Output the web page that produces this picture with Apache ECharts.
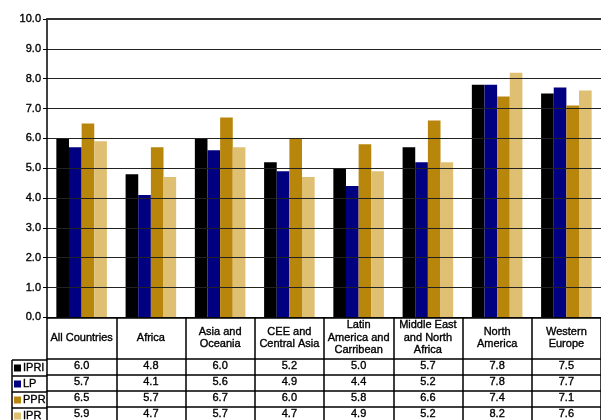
<!DOCTYPE html>
<html>
<head>
<meta charset="utf-8">
<script src="https://cdn.jsdelivr.net/npm/echarts@6/dist/echarts.min.js"></script>
<style>html,body{margin:0;padding:0;background:#fff;}#c{width:601px;height:420px;}</style>
</head>
<body>
<div id="c"></div>
<script>
const categories = ['All Countries','Africa','Asia and\nOceania','CEE and\nCentral Asia','Latin\nAmerica and\nCarribean','Middle East\nand North\nAfrica','North\nAmerica','Western\nEurope'];
const seriesNames = ['IPRI','LP','PPR','IPR'];
const ipri = [6.0,4.8,6.0,5.2,5.0,5.7,7.8,7.5];
const lp   = [5.7,4.1,5.6,4.9,4.4,5.2,7.8,7.7];
const ppr  = [6.5,5.7,6.7,6.0,5.8,6.6,7.4,7.1];
const ipr  = [5.9,4.7,5.7,4.7,4.9,5.2,8.2,7.6];
const yMin = 0, yMax = 10, yStep = 1;

const values = [ipri, lp, ppr, ipr];
const colors = ['#000000','#000080','#B8860B','#DFBF72'];
const FONT = "'Liberation Sans', Arial, sans-serif";
const TXT = {fontSize: 11, color: '#000', fontFamily: FONT, textBorderColor: '#000', textBorderWidth: 0.35};

// layout (px)
const GL = 47, GT = 19, GB = 101, H = 420;
const AXIS_Y = H - GB;
const HEADER_H = 41, ROW_H = 16, LEG_L = 12;
const LW = 1.5;

const chart = echarts.init(document.getElementById('c'), null, {renderer:'canvas'});

const rowAxes = values.map((vals, i) => ({
  type: 'category', data: categories, gridIndex: 0, position: 'bottom',
  offset: HEADER_H + ROW_H * i, z: 4,
  axisLine: {show: true, lineStyle: {color: '#000', width: LW}},
  axisTick: {show: true, interval: 0, length: ROW_H, lineStyle: {color: '#000', width: LW}},
  axisLabel: Object.assign({show: true, interval: 0, margin: 8, verticalAlign: 'middle',
    formatter: (v, idx) => vals[idx].toFixed(1)}, TXT),
  splitLine: {show: false}
}));

const graphics = [];
for (let i = 0; i < values.length; i++) {
  const y = AXIS_Y + HEADER_H + ROW_H * i;
  graphics.push({type: 'line', shape: {x1: LEG_L, y1: y, x2: GL, y2: y}, style: {stroke: '#000', lineWidth: LW}, z: 10});
}
graphics.push({type: 'line', shape: {x1: LEG_L, y1: AXIS_Y + HEADER_H, x2: LEG_L, y2: H + 5}, style: {stroke: '#000', lineWidth: LW}, z: 10});

chart.setOption({
  animation: false,
  backgroundColor: '#fff',
  textStyle: {fontFamily: FONT},
  grid: {left: GL, right: 0, top: GT, bottom: GB, containLabel: false},
  legend: {
    orient: 'vertical', left: LEG_L + 2, top: AXIS_Y + HEADER_H, height: 100, padding: 0, itemGap: 0,
    itemWidth: 7, itemHeight: 7, icon: 'rect', selectedMode: false,
    data: seriesNames,
    textStyle: Object.assign({lineHeight: ROW_H, padding: [0,0,0,-3]}, TXT)
  },
  xAxis: [
    {
      type: 'category', data: categories, gridIndex: 0, position: 'bottom', z: 4,
      axisLine: {show: true, lineStyle: {color: '#000', width: LW}},
      axisTick: {show: true, interval: 0, length: HEADER_H, lineStyle: {color: '#000', width: LW}},
      axisLabel: Object.assign({show: true, interval: 0, margin: HEADER_H / 2, verticalAlign: 'middle',
        lineHeight: 12.5}, TXT),
      splitLine: {show: false}
    },
    ...rowAxes,
    {
      type: 'category', data: categories, gridIndex: 0, position: 'top', z: 4,
      axisLine: {show: true, lineStyle: {color: '#333', width: 2}},
      axisTick: {show: false}, axisLabel: {show: false}, splitLine: {show: false}
    }
  ],
  yAxis: {
    type: 'value', min: yMin, max: yMax, interval: yStep, z: 3,
    axisLine: {show: true, lineStyle: {color: '#000', width: LW}},
    axisTick: {show: true, length: 4, lineStyle: {color: '#000', width: 1}},
    axisLabel: Object.assign({margin: 6, formatter: v => v.toFixed(1)}, TXT),
    splitLine: {show: true, lineStyle: {color: '#222', width: 1}}
  },
  graphic: graphics,
  series: values.map((vals, i) => ({
    name: seriesNames[i], type: 'bar', data: vals, xAxisIndex: 0,
    barGap: '0%', barCategoryGap: '27%',
    itemStyle: {color: colors[i]}
  }))
});
</script>
</body>
</html>
